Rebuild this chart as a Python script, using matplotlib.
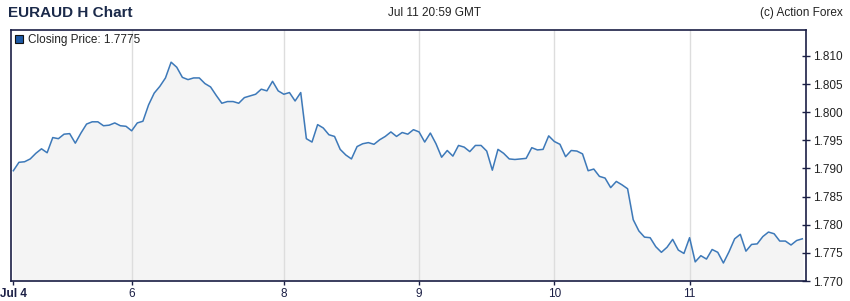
import matplotlib
matplotlib.use("Agg")
import matplotlib.pyplot as plt
from matplotlib.patches import Patch
import numpy as np

plt.rcParams['font.family'] = ['Liberation Sans', 'DejaVu Sans']

# hourly closes, EURAUD, Jul 4 -> Jul 11
closes = [
    1.7896, 1.7911, 1.7912, 1.7917, 1.7927, 1.7935, 1.7928, 1.7955, 1.7953, 1.7961,
    1.7962, 1.7945, 1.7963, 1.7979, 1.7983, 1.7983, 1.7976, 1.7977, 1.7981, 1.7976,
    1.7975, 1.7967, 1.7981, 1.7984, 1.8013, 1.8034, 1.8046, 1.8061, 1.8089, 1.8080,
    1.8062, 1.8058, 1.8061, 1.8061, 1.8051, 1.8045, 1.8030, 1.8016, 1.8019, 1.8019,
    1.8016, 1.8026, 1.8029, 1.8032, 1.8041, 1.8038, 1.8055, 1.8038, 1.8032, 1.8035,
    1.8020, 1.8035, 1.7953, 1.7947, 1.7978, 1.7972, 1.7960, 1.7957, 1.7934, 1.7924,
    1.7917, 1.7939, 1.7944, 1.7946, 1.7943, 1.7951, 1.7957, 1.7965, 1.7957, 1.7964,
    1.7961, 1.7969, 1.7965, 1.7947, 1.7963, 1.7944, 1.7920, 1.7932, 1.7922, 1.7941,
    1.7938, 1.7930, 1.7941, 1.7941, 1.7931, 1.7897, 1.7934, 1.7927, 1.7917, 1.7916,
    1.7917, 1.7918, 1.7937, 1.7933, 1.7934, 1.7958, 1.7948, 1.7943, 1.7921, 1.7932,
    1.7931, 1.7926, 1.7896, 1.7899, 1.7886, 1.7883, 1.7866, 1.7877, 1.7871, 1.7864,
    1.7809, 1.7789, 1.7778, 1.7777, 1.7761, 1.7751, 1.7760, 1.7774, 1.7755, 1.7749,
    1.7777, 1.7734, 1.7745, 1.7739, 1.7756, 1.7751, 1.7732, 1.7752, 1.7775, 1.7783,
    1.7753, 1.7765, 1.7766, 1.7779, 1.7787, 1.7784, 1.7771, 1.7771, 1.7764, 1.7772,
    1.7775,
]

# day boundaries (bar index) and their labels
day_ticks = [0, 21, 48, 72, 96, 120]
day_labels = ['Jul 4', '6', '8', '9', '10', '11']

price_ticks = [1.770, 1.775, 1.780, 1.785, 1.790, 1.795, 1.800, 1.805, 1.810]

navy = '#1b1f45'
line_col = '#3d79b9'

x = np.arange(len(closes))

fig = plt.figure(figsize=(8.5, 3.01), dpi=100)
ax = fig.add_axes([11 / 850, 20 / 301, 795 / 850, 251 / 301])

ymin, ymax = 1.770, 1.81462
ax.fill_between(x, closes, ymin, color='#f4f4f4', zorder=1)
ax.plot(x, closes, color=line_col, lw=1.1, zorder=3)

for d in day_ticks[1:]:
    ax.axvline(d, color='#dddddd', lw=1, zorder=2)

ax.set_xlim(-0.41, len(closes) - 1 + 0.66)
ax.set_ylim(ymin, ymax)

ax.set_xticks(day_ticks)
ax.set_xticklabels(day_labels)
for lbl in ax.get_xticklabels():
    if lbl.get_text().startswith('Jul'):
        lbl.set_fontweight('bold')

ax.yaxis.tick_right()
ax.set_yticks(price_ticks)
ax.set_yticklabels([f'{v:.3f}' for v in price_ticks])

ax.tick_params(axis='x', colors=navy, labelsize=8.5, length=3, width=1, pad=2)
ax.tick_params(axis='y', colors=navy, labelcolor='#222222', labelsize=8.5,
               direction='inout', length=6, width=1, pad=2)

for side in ['left', 'right', 'top', 'bottom']:
    ax.spines[side].set_color(navy)
    ax.spines[side].set_linewidth(1.2)

handle = Patch(facecolor='#1d5aa6', edgecolor='#111111', linewidth=0.8)
leg = ax.legend([handle], [f'Closing Price: {closes[-1]:.4f}'], loc='upper left',
                frameon=False, fontsize=8.5, handlelength=0.7, handleheight=0.7,
                handletextpad=0.4, borderaxespad=0.15, borderpad=0.2)
for t in leg.get_texts():
    t.set_color('#222222')

fig.text(8 / 850, 1 - 13 / 301, 'EURAUD H Chart', fontsize=11, fontweight='bold',
         color='#1b2a4a', va='center', ha='left')
fig.text(435 / 850, 1 - 13 / 301, 'Jul 11 20:59 GMT', fontsize=8.5,
         color='#222222', va='center', ha='center')
fig.text(843 / 850, 1 - 13 / 301, '(c) Action Forex', fontsize=8.5,
         color='#222222', va='center', ha='right')

fig.savefig('out.png', dpi=100)
